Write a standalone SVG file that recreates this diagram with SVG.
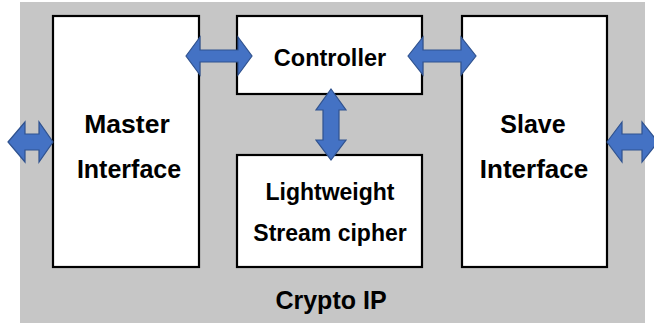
<svg xmlns="http://www.w3.org/2000/svg" width="654" height="323" viewBox="0 0 654 323">
<style>
.box{fill:#ffffff;stroke:#000000;stroke-width:2.2}
.arr{fill:#4472c4;stroke:#2f528f;stroke-width:1.2;stroke-linejoin:miter}
.t{font-family:"Liberation Sans",Arial,sans-serif;font-weight:bold;fill:#000000;text-anchor:middle}
</style>
<rect x="0" y="0" width="654" height="323" fill="#ffffff"/>
<g id="crypto-ip">
<rect x="20" y="2" width="625" height="321" fill="#c6c6c6"/>
<text class="t" x="331" y="309" font-size="25">Crypto IP</text>
</g>
<g id="master">
<rect class="box" x="53" y="16" width="146" height="251"/>
<text class="t" x="127" y="133" font-size="26.5">Master</text>
<text class="t" x="129" y="178" font-size="25">Interface</text>
</g>
<g id="controller">
<rect class="box" x="237" y="16" width="185" height="78"/>
<text class="t" x="330" y="66" font-size="23.5">Controller</text>
</g>
<g id="cipher">
<rect class="box" x="237" y="155" width="185" height="112"/>
<text class="t" x="330" y="200" font-size="23">Lightweight</text>
<text class="t" x="330" y="241" font-size="23">Stream cipher</text>
</g>
<g id="slave">
<rect class="box" x="462" y="16" width="145" height="251"/>
<text class="t" x="533" y="133" font-size="25">Slave</text>
<text class="t" x="534" y="178" font-size="26">Interface</text>
</g>
<g id="connectors">
<polygon class="arr" points="186,56 200,37 200,50 238,50 238,37 252,56 238,75 238,62 200,62 200,75"/>
<polygon class="arr" points="408,56 423,37 423,50 461,50 461,37 476,56 461,75 461,62 423,62 423,75"/>
<polygon class="arr" points="8,142 25,122 25,134 39,134 39,122 53,142 39,162 39,150 25,150 25,162"/>
<polygon class="arr" points="607,142 622,122 622,134 642,134 642,122 658,142 642,162 642,150 622,150 622,162"/>
<polygon class="arr" points="331,89 346,110 339,110 339,140 346,140 331,160 316,140 323,140 323,110 316,110"/>
</g>
</svg>
